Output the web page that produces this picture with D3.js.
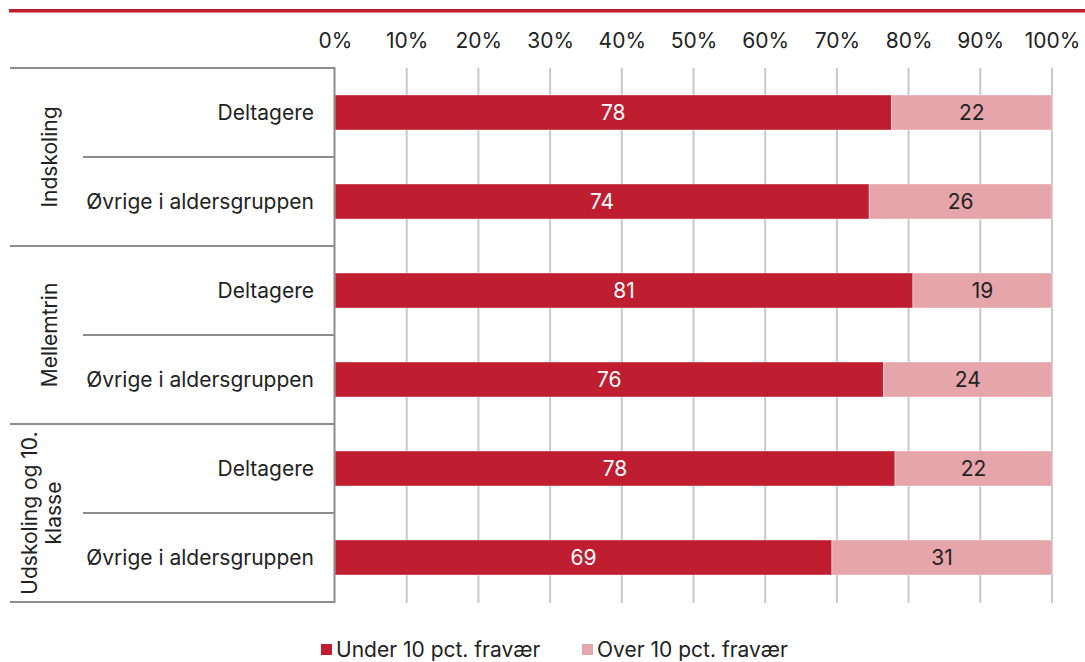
<!DOCTYPE html>
<html><head><meta charset="utf-8">
<script src="https://cdn.jsdelivr.net/npm/d3@7"></script>
<style>body{margin:0;background:#fff;} svg{display:block;font-family:Inter, "Noto Sans", sans-serif;}</style>
</head><body>
<svg id="c" width="1085" height="662"></svg>
<script>
const groups = [["Indskoling"], ["Mellemtrin"], ["Udskoling og 10.", "klasse"]];
const categories = ["Deltagere", "Øvrige i aldersgruppen"];
const under = [77.6, 74.5, 80.6, 76.5, 78.1, 69.3];
const over = [22.4, 25.5, 19.4, 23.5, 21.9, 30.7];
const underLabels = [78, 74, 81, 76, 78, 69];
const overLabels = [22, 26, 19, 24, 22, 31];
const seriesNames = ["Under 10 pct. fravær", "Over 10 pct. fravær"];
const tickValues = [0, 10, 20, 30, 40, 50, 60, 70, 80, 90, 100];
const colors = ["#BF1E31", "#E6A5AA"];

const FS = 21;
const svg = d3.select("#c");
const x = d3.scaleLinear().domain([0, 100]).range([335, 1052]);
const rows = d3.range(groups.length * categories.length);
const y = d3.scaleBand().domain(rows).range([68, 602]).paddingInner(0).paddingOuter(0);
const barH = 35;

// top red rule
svg.append("rect").attr("x", 9).attr("y", 9).attr("width", 1076).attr("height", 3.5).attr("fill", "#BF1E31");

// gridlines
svg.append("g").selectAll("line").data(tickValues.slice(1)).join("line")
  .attr("x1", d => x(d)).attr("x2", d => x(d)).attr("y1", 68).attr("y2", 603)
  .attr("stroke", "#C8C8C8").attr("stroke-width", 2);

// top axis labels
const ax = svg.append("g").attr("transform", "translate(0,48)")
  .call(d3.axisTop(x).tickValues(tickValues).tickFormat(d => d + "%").tickSize(0).tickPadding(0));
ax.select(".domain").remove();
ax.selectAll("text").attr("font-size", FS).attr("fill", "#222").attr("font-family", "Inter, 'Noto Sans', sans-serif");

// bars
const data = rows.map(i => ({i, u: under[i], o: over[i], ul: underLabels[i], ol: overLabels[i]}));
const bars = svg.append("g");
bars.selectAll(".u").data(data).join("rect").attr("class", "u")
  .attr("x", x(0)).attr("y", d => y(d.i) + y.bandwidth() / 2 - barH / 2)
  .attr("width", d => x(d.u) - x(0)).attr("height", barH).attr("fill", colors[0])
  .attr("stroke", "#fff").attr("stroke-opacity", 0.5).attr("stroke-width", 0.75);
bars.selectAll(".o").data(data).join("rect").attr("class", "o")
  .attr("x", d => x(d.u)).attr("y", d => y(d.i) + y.bandwidth() / 2 - barH / 2)
  .attr("width", d => x(d.u + d.o) - x(d.u)).attr("height", barH).attr("fill", colors[1])
  .attr("stroke", "#fff").attr("stroke-opacity", 0.5).attr("stroke-width", 0.75);
bars.selectAll(".ut").data(data).join("text").attr("class", "ut")
  .attr("x", d => (x(0) + x(d.u)) / 2).attr("y", d => y(d.i) + y.bandwidth() / 2)
  .attr("dy", "0.35em").attr("text-anchor", "middle").attr("font-size", FS).attr("fill", "#fff")
  .text(d => d.ul);
bars.selectAll(".ot").data(data).join("text").attr("class", "ot")
  .attr("x", d => (x(d.u) + x(d.u + d.o)) / 2).attr("y", d => y(d.i) + y.bandwidth() / 2)
  .attr("dy", "0.35em").attr("text-anchor", "middle").attr("font-size", FS).attr("fill", "#222")
  .text(d => d.ol);

// category axis structure
const lineColor = "#8C8C8C";
const cat = svg.append("g");
cat.append("line").attr("x1", 334.5).attr("x2", 334.5).attr("y1", 67).attr("y2", 603)
  .attr("stroke", lineColor).attr("stroke-width", 2);
const gBounds = d3.range(groups.length + 1).map(g => g === groups.length ? 602 : y(g * categories.length));
cat.selectAll(".gb").data(gBounds).join("line").attr("class", "gb")
  .attr("x1", 10).attr("x2", 335).attr("y1", d => d).attr("y2", d => d)
  .attr("stroke", lineColor).attr("stroke-width", 2);
const inner = d3.range(groups.length).map(g => y(g * categories.length + 1));
cat.selectAll(".ib").data(inner).join("line").attr("class", "ib")
  .attr("x1", 83).attr("x2", 335).attr("y1", d => d).attr("y2", d => d)
  .attr("stroke", lineColor).attr("stroke-width", 2);
cat.selectAll(".cl").data(rows).join("text").attr("class", "cl")
  .attr("x", 314).attr("y", i => y(i) + y.bandwidth() / 2).attr("dy", "0.35em")
  .attr("text-anchor", "end").attr("font-size", FS).attr("fill", "#222")
  .text(i => categories[i % categories.length]);
// group labels rotated
groups.forEach((lines, g) => {
  const cy = (gBounds[g] + gBounds[g + 1]) / 2;
  const n = lines.length;
  const lastBase = n > 1 ? 60.5 : 57;
  const lh = 23.5;
  lines.forEach((l, k) => {
    const bx = lastBase - (n - 1 - k) * lh;
    cat.append("text").attr("transform", `translate(${bx},${cy}) rotate(-90)`)
      .attr("text-anchor", "middle").attr("font-size", FS).attr("fill", "#222").text(l);
  });
});

// legend
const leg = svg.append("g");
const legItems = [{x: 321, name: seriesNames[0], c: colors[0]}, {x: 582, name: seriesNames[1], c: colors[1]}];
leg.selectAll("rect").data(legItems).join("rect")
  .attr("x", d => d.x).attr("y", 644).attr("width", 11).attr("height", 11).attr("fill", d => d.c);
leg.selectAll("text").data(legItems).join("text")
  .attr("x", d => d.x + 15).attr("y", 650).attr("dy", "0.35em").attr("font-size", FS).attr("fill", "#222")
  .text(d => d.name);
</script>
</body></html>
